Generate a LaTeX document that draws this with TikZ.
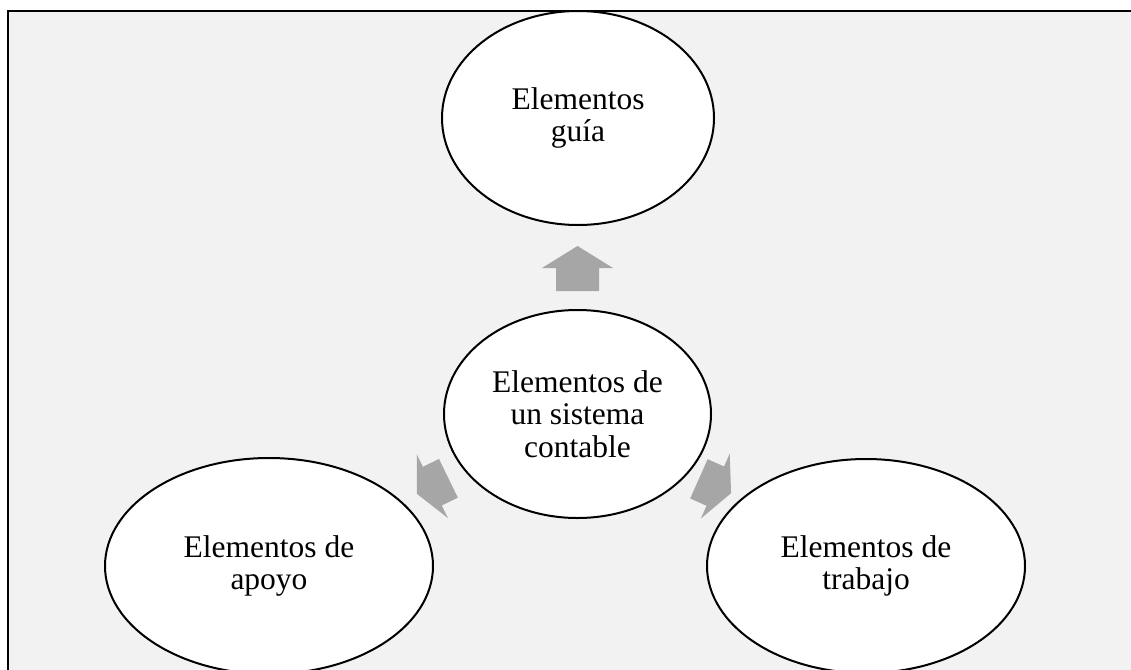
\documentclass[tikz,border=0pt]{standalone}
\usepackage{fontspec}
\setmainfont{Liberation Serif}
\usetikzlibrary{shapes.geometric}
\definecolor{bgfill}{HTML}{F2F2F2}
\definecolor{arrowgray}{HTML}{A6A6A6}
\tikzset{
  pics/blockarrow/.style n args={2}{code={
    \fill[arrowgray] (#1,0) -- (#2,35.5) -- (#2,21.5) -- (-#1,21.5) -- (-#1,-21.5) -- (#2,-21.5) -- (#2,-35.5) -- cycle;
  }}
}
\begin{document}
\begin{tikzpicture}[x=1pt,y=-1pt,
  bubble/.style={ellipse, draw=black, line width=2pt, fill=white, inner sep=0pt, align=center,
    font=\fontsize{31.5}{32.5}\selectfont}]
\useasboundingbox (0,0) rectangle (1131,669);
\clip (0,0) rectangle (1131,669);
\fill[white] (0,0) rectangle (1131,669);
\draw[line width=2pt, fill=bgfill] (8,11) rectangle (1145,690);
\node[bubble, minimum width=272pt, minimum height=214pt] (guia) at (578,118) {Elementos\\guía};
\node[bubble, minimum width=267pt, minimum height=208pt] (centro) at (577.5,414) {Elementos de\\un sistema\\contable};
\node[bubble, minimum width=328pt, minimum height=216pt] (apoyo) at (269,566) {Elementos de\\apoyo};
\node[bubble, minimum width=318pt, minimum height=214pt] (trabajo) at (866,566) {Elementos de\\trabajo};
\pic[rotate=90] at (577.5,268.5) {blockarrow={22.5}{0.5}};
\pic[rotate=206] at (432.6,486) {blockarrow={17.6}{0.3}};
\pic[rotate=-24] at (715,486) {blockarrow={17.6}{0.3}};
\end{tikzpicture}
\end{document}
